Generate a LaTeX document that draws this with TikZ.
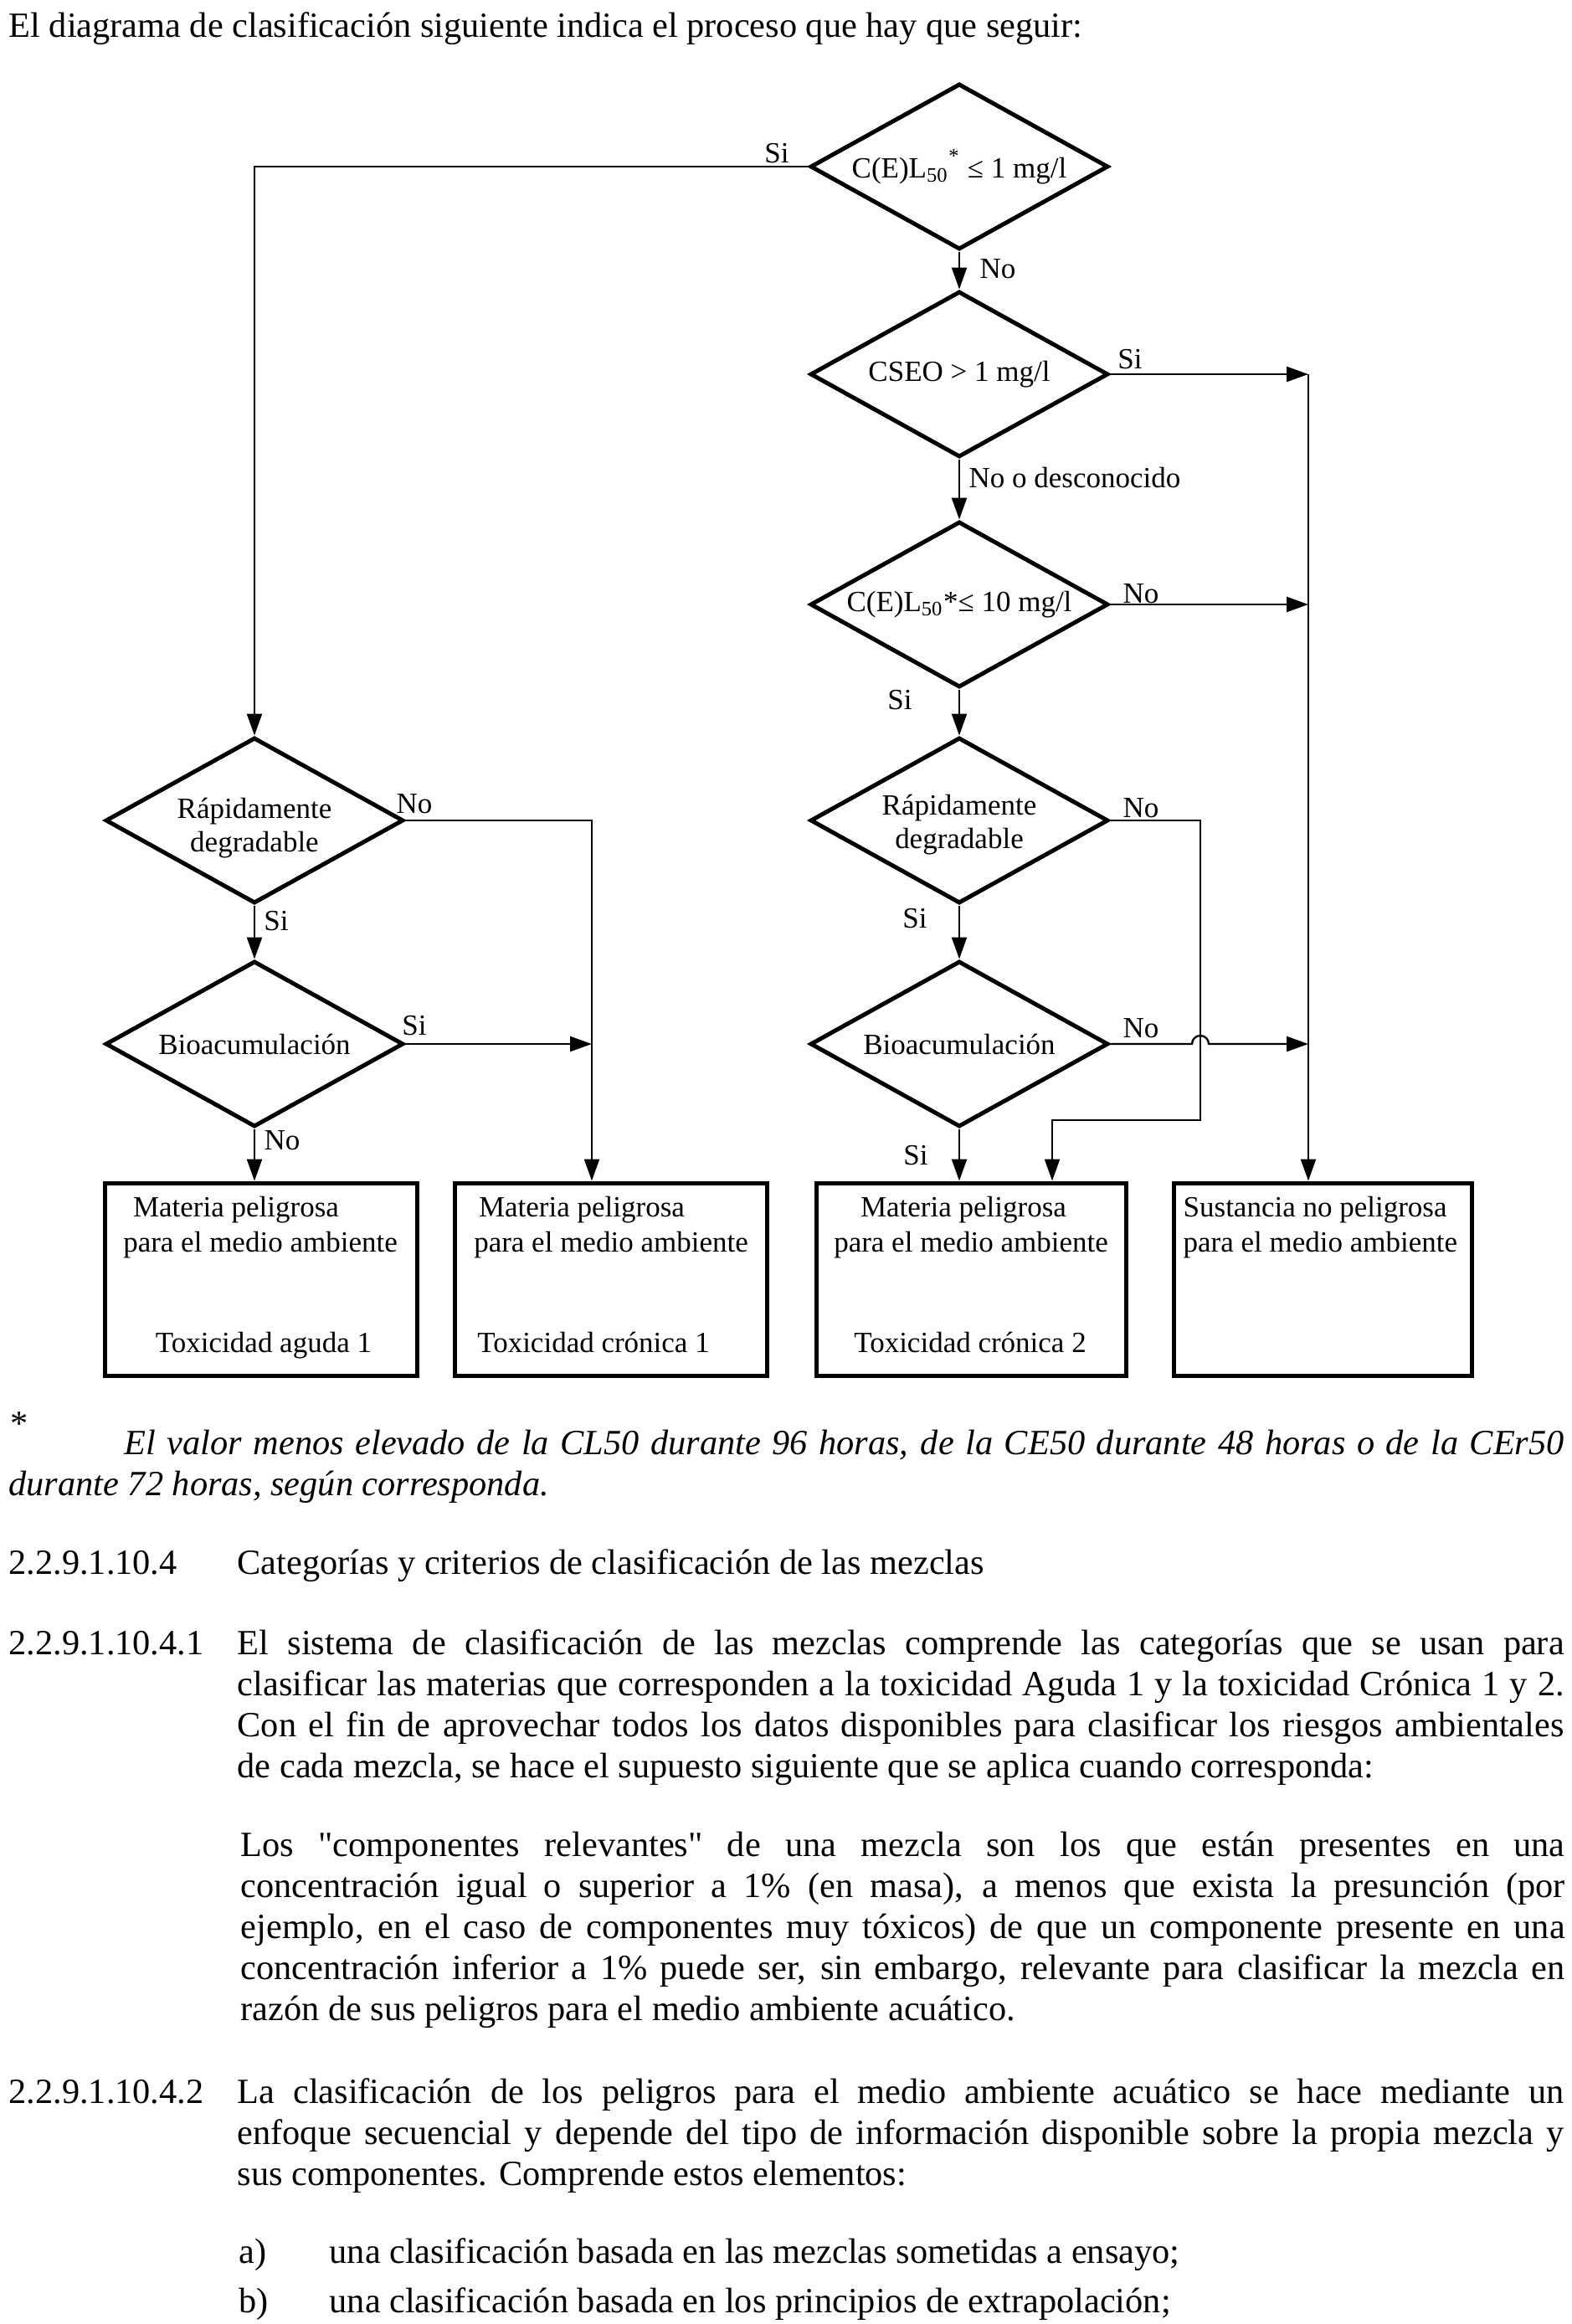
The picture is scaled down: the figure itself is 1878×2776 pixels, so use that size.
\documentclass[tikz,border=0pt]{standalone}
\usepackage{fontspec}
\setmainfont{Liberation Serif}[Ligatures=TeXOff]
\usetikzlibrary{shapes.geometric,arrows.meta,positioning,calc}

\newcommand{\fuentediag}{\fontsize{10.5}{12}\selectfont}
\newcommand{\fuentetexto}{\fontsize{12.7}{14.7}\selectfont}
% parrafo justificado, anclado en la linea base del primer renglon
\newcommand{\parrafo}[2]{\parbox[t]{#1}{\fuentetexto\hyphenpenalty=10000\emergencystretch=2em #2}}

\begin{document}
\begin{tikzpicture}[x=0.3pt, y=-0.3pt,
    decision/.style={diamond, draw, line width=1.5pt, shape aspect=1.8, minimum width=106.8pt, minimum height=59.4pt, inner sep=0pt, align=center, font=\fuentediag},
    caja/.style={rectangle, draw, line width=1.5pt, minimum width=111.9pt, minimum height=69pt},
    flecha/.style={line width=0.7pt, -{Triangle[length=7.8pt, width=5.4pt]}},
    etiqueta/.style={font=\fuentediag, inner sep=0pt},
    texto/.style={font=\fuentetexto, inner sep=0pt, anchor=base west}]

    % fondo y margenes de la pagina
    \fill[white] (0,0) rectangle (1878,2776);
    \useasboundingbox (0,0) rectangle (1878,2776);

    % frase de entrada
    \node[texto] (intro) at (10,44) {El diagrama de clasificación siguiente indica el proceso que hay que seguir:};

    % decisiones de la columna derecha
    \node[decision] (cl1) at (1146,199) {C(E)L\textsubscript{50}\textsuperscript{\raisebox{0.4ex}{*}} ≤ 1 mg/l};
    \node[decision] (cseo) at (1146,447) {CSEO > 1 mg/l};
    \node[decision] (cl10) at (1146,722) {C(E)L\textsubscript{50}*≤ 10 mg/l};
    \node[decision] (rapD) at (1146,980) {};
    \node[etiqueta, align=center] (rapDt) at (1146,985) {Rápidamente\\degradable};
    \node[decision] (bioD) at (1146,1247) {Bioacumulación};

    % decisiones de la columna izquierda
    \node[decision] (rapI) at (304,980) {};
    \node[etiqueta, align=center] (rapIt) at (304,989) {Rápidamente\\degradable};
    \node[decision] (bioI) at (304,1247) {Bioacumulación};

    % cajas de resultado
    \node[caja] (caja1) at (312,1528) {};
    \node[caja] (caja2) at (730,1528) {};
    \node[caja, minimum width=111pt] (caja3) at (1160,1528) {};
    \node[caja, minimum width=106.8pt] (caja4) at (1580,1528) {};

    % textos de las cajas
    \node[etiqueta, anchor=base] (c1a) at (282,1453) {Materia peligrosa};
    \node[etiqueta, anchor=base] (c1b) at (311,1495) {para el medio ambiente};
    \node[etiqueta, anchor=base] (c1c) at (315,1615) {Toxicidad aguda 1};
    \node[etiqueta, anchor=base] (c2a) at (695,1453) {Materia peligrosa};
    \node[etiqueta, anchor=base] (c2b) at (730,1495) {para el medio ambiente};
    \node[etiqueta, anchor=base] (c2c) at (709,1615) {Toxicidad crónica 1};
    \node[etiqueta, anchor=base] (c3a) at (1151,1453) {Materia peligrosa};
    \node[etiqueta, anchor=base] (c3b) at (1160,1495) {para el medio ambiente};
    \node[etiqueta, anchor=base] (c3c) at (1159,1615) {Toxicidad crónica 2};
    \node[etiqueta, anchor=base west] (c4a) at (1413,1453) {Sustancia no peligrosa};
    \node[etiqueta, anchor=base west] (c4b) at (1413,1495) {para el medio ambiente};

    % puntos de paso de las lineas
    \coordinate (colD) at (1563,447);
    \coordinate (colB) at (707,980);
    \coordinate (codo) at (1434,1338);
    \coordinate (bajada) at (1257,1338);

    % conexiones
    \draw[flecha] (cl1.south) -- (cseo.north);
    \draw[flecha] (cseo.south) -- (cl10.north);
    \draw[flecha] (cl10.south) -- (rapD.north);
    \draw[flecha] (rapD.south) -- (bioD.north);
    \draw[flecha] (bioD.south) -- (bioD.south |- caja3.north);
    \draw[flecha] (cl1.west) -| (rapI.north);
    \draw[flecha] (rapI.south) -- (bioI.north);
    \draw[flecha] (bioI.south) -- (bioI.south |- caja1.north);
    \draw[flecha] (rapI.east) -| (colB |- caja2.north);
    \draw[flecha] (bioI.east) -- (bioI.east -| colB);
    \draw[flecha] (cseo.east) -- (colD);
    \draw[flecha] (cl10.east) -- (cl10.east -| colD);
    \draw[flecha] (colD) -- (colD |- caja4.north);
    \draw[flecha] (rapD.east) -| (codo) -- (bajada) -- (bajada |- caja3.north);
    \draw[flecha] (bioD.east) -- ($(bioD.east -| codo)+(-10,0)$) arc[start angle=180, end angle=0, radius=3pt] -- (bioD.east -| colD);

    % etiquetas de las conexiones
    \node[etiqueta] (eSi1) at (928,183) {Si};
    \node[etiqueta, anchor=west] (eNo1) at (1170,321) {No};
    \node[etiqueta] (eSi2) at (1350,429) {Si};
    \node[etiqueta, anchor=west] (eNoDes) at (1157,571) {No o desconocido};
    \node[etiqueta] (eNo3) at (1363,709) {No};
    \node[etiqueta] (eSi3) at (1075,836) {Si};
    \node[etiqueta] (eNo4) at (1363,965) {No};
    \node[etiqueta] (eSi4) at (1093,1097) {Si};
    \node[etiqueta] (eNo5) at (1363,1228) {No};
    \node[etiqueta] (eSi5) at (1094,1380) {Si};
    \node[etiqueta] (eNoA) at (495,960) {No};
    \node[etiqueta] (eSiA) at (330,1100) {Si};
    \node[etiqueta] (eSiB) at (495,1225) {Si};
    \node[etiqueta] (eNoB) at (337,1362) {No};

    % nota al pie
    \node[texto, anchor=center] (asterisco) at (23,1701) {*};
    \node[texto] (nota) at (10,1737) {\parrafo{557.4pt}{\itshape\hspace*{41.4pt}El valor menos elevado de la CL50 durante 96 horas, de la CE50 durante 48 horas o de la CEr50\linebreak durante 72 horas, según corresponda.}};

    % texto siguiente
    \node[texto] (num1) at (10,1880) {2.2.9.1.10.4};
    \node[texto] (tit1) at (283,1880) {Categorías y criterios de clasificación de las mezclas};
    \node[texto] (num2) at (10,1976) {2.2.9.1.10.4.1};
    \node[texto] (par2) at (283,1976) {\parrafo{475.5pt}{El sistema de clasificación de las mezclas comprende las categorías que se usan para\linebreak clasificar las materias que corresponden a la toxicidad Aguda 1 y la toxicidad Crónica 1 y 2.\linebreak Con el fin de aprovechar todos los datos disponibles para clasificar los riesgos ambientales\linebreak de cada mezcla, se hace el supuesto siguiente que se aplica cuando corresponda:}};
    \node[texto] (par3) at (287,2217) {\parrafo{474.6pt}{Los "componentes relevantes" de una mezcla son los que están presentes en una\linebreak concentración igual o superior a 1\% (en masa), a menos que exista la presunción (por\linebreak ejemplo, en el caso de componentes muy tóxicos) de que un componente presente en una\linebreak concentración inferior a 1\% puede ser, sin embargo, relevante para clasificar la mezcla en\linebreak razón de sus peligros para el medio ambiente acuático.}};
    \node[texto] (num3) at (10,2512) {2.2.9.1.10.4.2};
    \node[texto] (par4) at (283,2512) {\parrafo{475.5pt}{La clasificación de los peligros para el medio ambiente acuático se hace mediante un\linebreak enfoque secuencial y depende del tipo de información disponible sobre la propia mezcla y\linebreak sus componentes. Comprende estos elementos:}};
    \node[texto] (letA) at (285,2703) {a)};
    \node[texto] (itemA) at (393,2703) {una clasificación basada en las mezclas sometidas a ensayo;};
    \node[texto] (letB) at (285,2762) {b)};
    \node[texto] (itemB) at (393,2762) {una clasificación basada en los principios de extrapolación;};
\end{tikzpicture}
\end{document}
